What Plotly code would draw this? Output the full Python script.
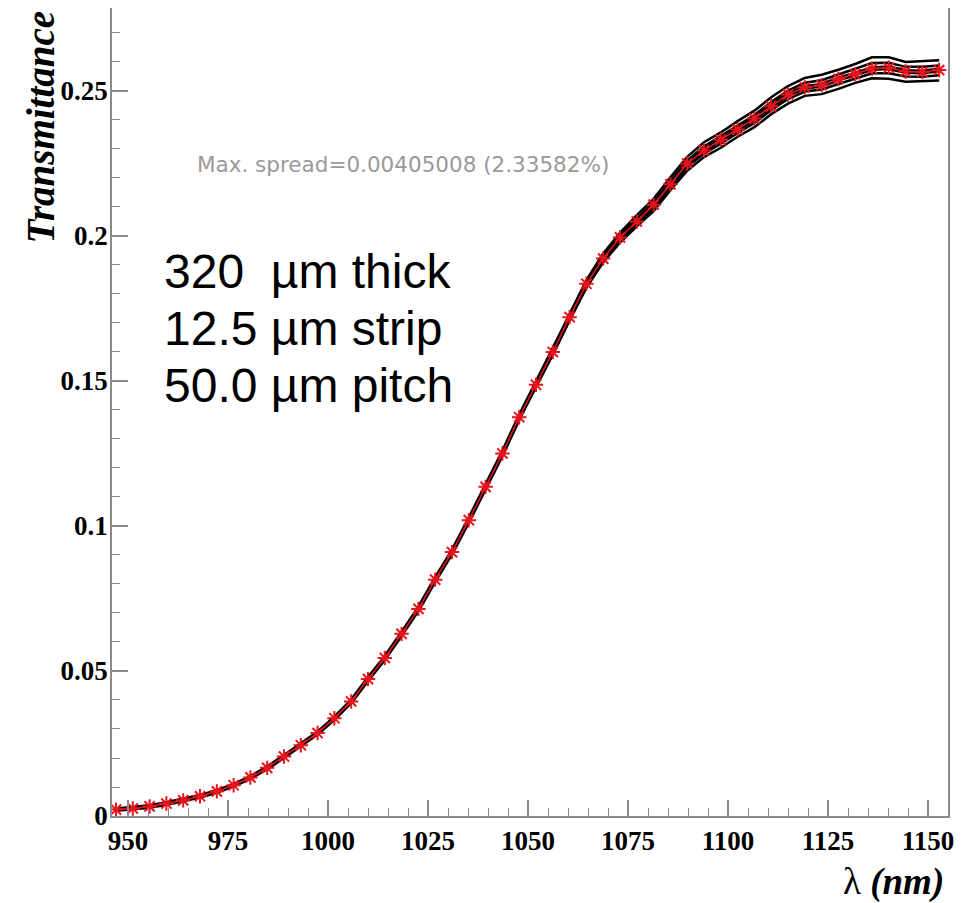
import plotly.graph_objects as go

# wavelength grid (nm) of the plotted points
wavelength = [947.0, 951.2, 955.4, 959.6, 963.8, 968.0, 972.2, 976.4, 980.6, 984.8,
              989.0, 993.2, 997.4, 1001.6, 1005.8, 1010.0, 1014.2, 1018.4, 1022.6, 1026.8,
              1031.0, 1035.2, 1039.4, 1043.6, 1047.8, 1052.0, 1056.2, 1060.4, 1064.6, 1068.8,
              1073.0, 1077.2, 1081.4, 1085.6, 1089.8, 1094.0, 1098.2, 1102.4, 1106.6, 1110.8,
              1115.0, 1119.2, 1123.4, 1127.6, 1131.8, 1136.0, 1140.2, 1144.4, 1148.6, 1152.8]

# mean transmittance (red markers)
mean_T = [0.0022, 0.0026, 0.0033, 0.0043, 0.0054, 0.0068, 0.0085, 0.0106, 0.0133, 0.0166,
          0.0205, 0.0244, 0.0286, 0.0337, 0.0395, 0.0472, 0.0545, 0.0628, 0.0714, 0.0815,
          0.0910, 0.1020, 0.1135, 0.1250, 0.1375, 0.1487, 0.1600, 0.1720, 0.1835, 0.1922,
          0.1995, 0.2050, 0.2108, 0.2178, 0.2250, 0.2295, 0.2332, 0.2367, 0.2405, 0.2447,
          0.2488, 0.2512, 0.2520, 0.2541, 0.2558, 0.2577, 0.2580, 0.2567, 0.2565, 0.2572]

# individual simulated curves (black), upper part where they separate
wl_upper = wavelength[22:]
curve_a = [0.1139, 0.1255, 0.1381, 0.1495, 0.1609, 0.1730, 0.1848, 0.1940, 0.2011, 0.2072,
           0.2128, 0.2202, 0.2273, 0.2323, 0.2357, 0.2396, 0.2432, 0.2478, 0.2517, 0.2545,
           0.2556, 0.2573, 0.2593, 0.2616, 0.2616, 0.2600, 0.2602, 0.2606]
curve_b = [0.1137, 0.1252, 0.1378, 0.1491, 0.1604, 0.1725, 0.1841, 0.1930, 0.2002, 0.2060,
           0.2117, 0.2189, 0.2260, 0.2308, 0.2343, 0.2381, 0.2417, 0.2462, 0.2501, 0.2528,
           0.2537, 0.2556, 0.2575, 0.2596, 0.2597, 0.2583, 0.2583, 0.2588]
curve_c = [0.1133, 0.1247, 0.1372, 0.1483, 0.1595, 0.1715, 0.1828, 0.1916, 0.1986, 0.2042,
           0.2097, 0.2168, 0.2238, 0.2284, 0.2318, 0.2355, 0.2390, 0.2434, 0.2472, 0.2498,
           0.2505, 0.2524, 0.2543, 0.2561, 0.2561, 0.2550, 0.2549, 0.2554]
curve_d = [0.1131, 0.1245, 0.1368, 0.1479, 0.1590, 0.1709, 0.1821, 0.1909, 0.1977, 0.2033,
           0.2086, 0.2158, 0.2225, 0.2272, 0.2304, 0.2342, 0.2375, 0.2420, 0.2456, 0.2483,
           0.2489, 0.2507, 0.2528, 0.2544, 0.2542, 0.2532, 0.2533, 0.2536]

x_ticks = [950, 975, 1000, 1025, 1050, 1075, 1100, 1125, 1150]
y_ticks = [0, 0.05, 0.1, 0.15, 0.2, 0.25]
y_ticktext = ["0", "0.05", "0.1", "0.15", "0.2", "0.25"]

spread_text = "Max. spread=0.00405008 (2.33582%)"
info_lines = ["320  µm thick", "12.5 µm strip", "50.0 µm pitch"]

fig = go.Figure()
fig.add_trace(go.Scatter(x=wavelength, y=mean_T, mode="lines",
                         line=dict(color="black", width=5), showlegend=False))
for c in (curve_a, curve_b, curve_c, curve_d):
    fig.add_trace(go.Scatter(x=wl_upper, y=c, mode="lines",
                             line=dict(color="black", width=2.5), showlegend=False))
fig.add_trace(go.Scatter(x=wavelength, y=mean_T, mode="lines+markers",
                         line=dict(color="#e8141c", width=1.5),
                         marker=dict(symbol="asterisk-open", size=12,
                                     line=dict(color="#e8141c", width=2)),
                         showlegend=False))

axis_col = "#8a8a8a"
tick_font = dict(family="Liberation Serif", size=27, color="black", weight="bold")

fig.update_xaxes(range=[946, 1155.0], tickvals=x_ticks, ticks="inside", ticklen=16,
                 tickwidth=1.5, tickcolor=axis_col, showline=True, linecolor=axis_col,
                 linewidth=1.5, mirror=True, showgrid=False, zeroline=False,
                 tickfont=tick_font,
                 minor=dict(dtick=5, tick0=950, ticks="inside", ticklen=8,
                            tickcolor=axis_col, tickwidth=1.2, showgrid=False))
fig.update_yaxes(range=[0, 0.2786], tickvals=y_ticks, ticktext=y_ticktext,
                 ticks="inside", ticklen=16, tickwidth=1.5, tickcolor=axis_col,
                 showline=True, linecolor=axis_col, linewidth=1.5, mirror=True,
                 showgrid=False, zeroline=False, tickfont=tick_font,
                 ticklabelstandoff=-3,
                 minor=dict(dtick=0.01, tick0=0, ticks="inside", ticklen=8,
                            tickcolor=axis_col, tickwidth=1.2, showgrid=False))

# page has an 8 px body margin; figure sized to fit the window
OFF = 8
W, H = 960, 895
L, R, T, B = 104, 20, 0, 87
pw, ph = W - L - R, H - T - B

def px(page_x):
    return (page_x - OFF - L) / pw

def py(page_y):
    return (H - B - (page_y - OFF)) / ph

annotations = [
    dict(text="<b><i>Transmittance</i></b>", textangle=-90, xref="paper", yref="paper",
         x=px(40), y=py(9), xanchor="center", yanchor="top", showarrow=False,
         font=dict(family="Liberation Serif", size=39, color="black")),
    dict(text="λ <b><i>(nm)</i></b>", xref="paper", yref="paper",
         x=px(946), y=py(882), xanchor="right", yanchor="middle", showarrow=False,
         font=dict(family="Liberation Serif", size=37, color="black")),
    dict(text=spread_text, xref="paper", yref="paper", x=px(195), y=py(165),
         xanchor="left", yanchor="middle", showarrow=False,
         font=dict(family="DejaVu Sans", size=21.5, color="#999999")),
]
for txt, yy in zip(info_lines, [272, 328, 385]):
    annotations.append(dict(text=txt, xref="paper", yref="paper", x=px(162), y=py(yy),
                            xanchor="left", yanchor="middle", showarrow=False,
                            font=dict(family="Liberation Sans", size=48, color="black")))

fig.update_layout(width=W, height=H, margin=dict(l=L, r=R, t=T, b=B, autoexpand=False),
                  plot_bgcolor="white", paper_bgcolor="white", annotations=annotations)

fig.write_html("out.html")
